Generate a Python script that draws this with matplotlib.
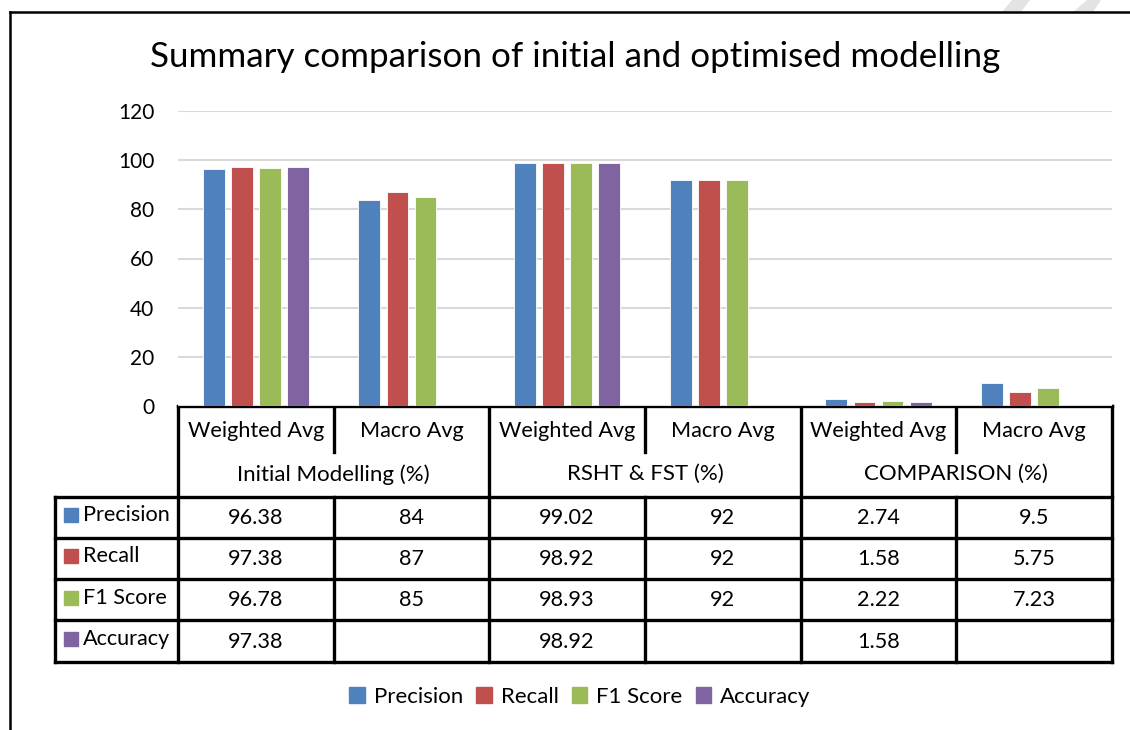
#!/usr/bin/env python3

import numpy as np
import matplotlib
import matplotlib.pyplot as plt
from matplotlib.patches import Rectangle, Polygon

matplotlib.use('Agg')
plt.rcParams['font.family'] = ['Lato', 'DejaVu Sans']

title = 'Summary comparison of initial and optimised modelling'
groups = ['Initial Modelling (%)', 'RSHT & FST (%)', 'COMPARISON (%)']
averages = ['Weighted Avg', 'Macro Avg']
metrics = ['Precision', 'Recall', 'F1 Score', 'Accuracy']
colors = ['#4F81BD', '#C0504D', '#9BBB59', '#8064A2']

# one value per (group, average) column
precision = [96.38, 84, 99.02, 92, 2.74, 9.5]
recall = [97.38, 87, 98.92, 92, 1.58, 5.75]
f1_score = [96.78, 85, 98.93, 92, 2.22, 7.23]
accuracy = [97.38, None, 98.92, None, 1.58, None]

y_ticks = [0, 20, 40, 60, 80, 100, 120]

series = [precision, recall, f1_score, accuracy]

W, H = 1130, 730
fig = plt.figure(figsize=(W / 100, H / 100), dpi=100)

# plot area in pixels
px_left, px_right, px_top, px_bottom = 178, 1112, 111, 406
ax = fig.add_axes([px_left / W, 1 - px_bottom / H,
                   (px_right - px_left) / W, (px_bottom - px_top) / H])

n_cols = len(groups) * len(averages)
x = np.arange(n_cols)
slot = 0.18
bar_w = 0.141
for i, (vals, c) in enumerate(zip(series, colors)):
    v = np.array([np.nan if a is None else a for a in vals], dtype=float)
    ax.bar(x + (i - 1.5) * slot, v, width=bar_w, color=c,
           edgecolor='white', linewidth=0.6, zorder=3)

ax.set_xlim(-0.5, n_cols - 0.5)
ax.set_ylim(y_ticks[0], y_ticks[-1])
ax.set_yticks(y_ticks)
ax.set_xticks([])
ax.tick_params(axis='y', length=0, pad=17, labelsize=15)
ax.grid(axis='y', color='#d9d9d9', linewidth=1.5, zorder=0)
for s in ax.spines.values():
    s.set_visible(False)

# overlay for table, frame and title, in pixel coordinates
ov = fig.add_axes([0, 0, 1, 1], zorder=-1)
ov.set_xlim(0, W)
ov.set_ylim(H, 0)
ov.axis('off')

lk = dict(color='black', lw=2.4, solid_capstyle='projecting')
edges = np.linspace(px_left, px_right, n_cols + 1)
row_lab_left = 55
y_hdr = px_bottom
y_grp = 452
rows_y = [496.5, 537.5, 579, 620, 661.5]

# horizontal lines
ov.plot([px_left, px_right], [y_hdr, y_hdr], **lk)
for yy in rows_y:
    ov.plot([row_lab_left, px_right], [yy, yy], **lk)
# vertical lines
ov.plot([row_lab_left, row_lab_left], [rows_y[0], rows_y[-1]], **lk)
for j, xe in enumerate(edges):
    if j % 2 == 0:
        ov.plot([xe, xe], [y_hdr, rows_y[-1]], **lk)
    else:
        ov.plot([xe, xe], [y_hdr, y_grp], **lk)
        ov.plot([xe, xe], [rows_y[0], rows_y[-1]], **lk)

fs = 15.6
centers = (edges[:-1] + edges[1:]) / 2
for j, cx in enumerate(centers):
    ov.text(cx, (y_hdr + y_grp) / 2 + 2, averages[j % 2], ha='center', va='center', fontsize=fs)
for g, name in enumerate(groups):
    cx = (edges[2 * g] + edges[2 * g + 2]) / 2
    ov.text(cx, (y_grp + rows_y[0]) / 2, name, ha='center', va='center', fontsize=16)

for r, (name, vals, c) in enumerate(zip(metrics, series, colors)):
    cy = (rows_y[r] + rows_y[r + 1]) / 2
    ov.add_patch(Rectangle((64, cy - 9), 14, 14, color=c))
    ov.text(83, cy - 2, name, ha='left', va='center', fontsize=fs)
    for j, cx in enumerate(centers):
        if vals[j] is not None:
            ov.text(cx, cy + 1, f'{vals[j]:g}', ha='center', va='center', fontsize=fs)

# outer frame and watermark remnants
ov.add_patch(Polygon([(1012, 0), (1030, 0), (1021, 12), (1002, 12)], color='#e3e3e3', lw=0))
ov.add_patch(Polygon([(1087, 0), (1101, 0), (1093, 12), (1073, 12)], color='#e3e3e3', lw=0))
ov.plot([10, W], [12, 12], color='black', lw=1.8)
ov.plot([10, 10], [12, H], color='black', lw=1.8)

fig.text(575 / W, 1 - 57 / H, title, ha='center', va='center', fontsize=25.2)

handles = [Rectangle((0, 0), 1, 1, color=c) for c in colors]
fig.legend(handles, metrics, loc='center', bbox_to_anchor=(580 / W, 1 - 697 / H),
           ncol=4, frameon=False, fontsize=16, handlelength=0.7, handleheight=0.7,
           handletextpad=0.4, columnspacing=0.6)

fig.savefig('out.png', dpi=100)
